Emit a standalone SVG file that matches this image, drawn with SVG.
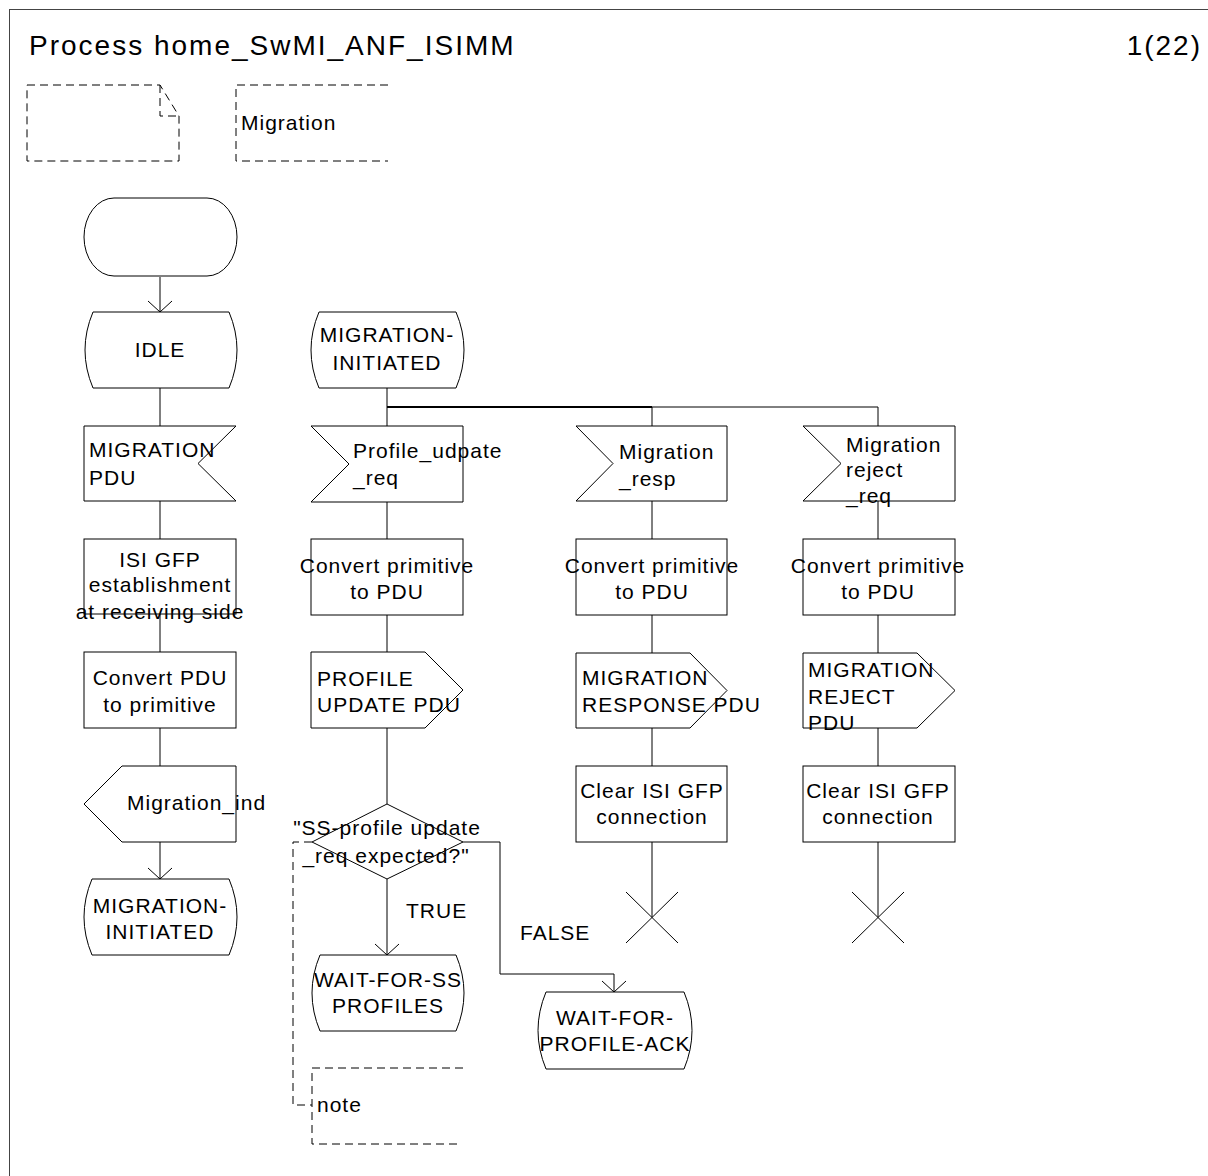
<svg xmlns="http://www.w3.org/2000/svg" width="1208" height="1176" viewBox="0 0 1208 1176">
<style>
text{font-family:"Liberation Sans",Arial,sans-serif;font-size:21px;letter-spacing:1px;fill:#000}
.c{text-anchor:middle}
.sh{fill:#fff;stroke:#000;stroke-width:1}
.ln{fill:none;stroke:#000;stroke-width:1}
.ds{fill:none;stroke:#000;stroke-width:1;stroke-dasharray:8,5}
</style>
<defs>
<marker id="arr" markerUnits="userSpaceOnUse" viewBox="-13 -13 14 26" refX="0" refY="0" markerWidth="14" markerHeight="26" orient="auto" overflow="visible">
<path d="M-11,-12 L0,0 L-11,12" fill="none" stroke="#000" stroke-width="1"/>
</marker>
</defs>
<rect x="9.5" y="9.5" width="1220" height="1200" fill="none" stroke="#444" stroke-width="1"/>
<text x="29" y="55" style="font-size:28px;letter-spacing:2px">Process home_SwMI_ANF_ISIMM</text>
<text x="1202" y="55" style="font-size:28px;letter-spacing:2px;text-anchor:end">1(22)</text>
<g id="textext">
<path class="ds" d="M27,85 H160 L179,116 V161 H27 Z"/>
<path class="ds" d="M160,85 V116 H179"/>
</g>
<g id="textsym">
<path class="ds" d="M388,85 H236 V161 H388"/>
<text x="241" y="130">Migration</text>
</g>
<g id="connectors">
<line class="ln" x1="160" y1="277" x2="160" y2="312" marker-end="url(#arr)"/>
<line class="ln" x1="160" y1="388" x2="160" y2="426"/>
<line class="ln" x1="160" y1="501" x2="160" y2="539"/>
<line class="ln" x1="160" y1="614" x2="160" y2="652"/>
<line class="ln" x1="160" y1="728" x2="160" y2="766"/>
<line class="ln" x1="160" y1="842" x2="160" y2="879" marker-end="url(#arr)"/>
<line class="ln" x1="387" y1="388" x2="387" y2="426"/>
<line x1="387" y1="407" x2="652" y2="407" stroke="#000" stroke-width="2"/>
<line class="ln" x1="652" y1="407" x2="878" y2="407"/>
<line class="ln" x1="652" y1="407" x2="652" y2="426"/>
<line class="ln" x1="878" y1="407" x2="878" y2="426"/>
<line class="ln" x1="387" y1="502" x2="387" y2="539"/>
<line class="ln" x1="387" y1="615" x2="387" y2="652"/>
<line class="ln" x1="387" y1="728" x2="387" y2="804"/>
<line class="ln" x1="387" y1="879" x2="387" y2="955" marker-end="url(#arr)"/>
<polyline class="ln" points="463,842 500,842 500,974 614,974 614,992" marker-end="url(#arr)"/>
<line class="ln" x1="652" y1="501" x2="652" y2="539"/>
<line class="ln" x1="652" y1="615" x2="652" y2="653"/>
<line class="ln" x1="652" y1="728" x2="652" y2="766"/>
<line class="ln" x1="652" y1="842" x2="652" y2="917"/>
<line class="ln" x1="878" y1="501" x2="878" y2="539"/>
<line class="ln" x1="878" y1="615" x2="878" y2="653"/>
<line class="ln" x1="878" y1="728" x2="878" y2="766"/>
<line class="ln" x1="878" y1="842" x2="878" y2="917"/>
<polyline class="ds" points="312,842 293,842 293,1105 312,1105"/>
<text x="406" y="918">TRUE</text>
<text x="520" y="940">FALSE</text>
</g>
<g id="start">
<rect class="sh" x="84" y="198" width="153" height="78" rx="30" ry="39"/>
</g>
<g id="idle">
<path class="sh" d="M93,312 H229 Q245,350 229,388 H93 Q77,350 93,312 Z"/>
<text class="c" x="160" y="357">IDLE</text>
</g>
<g id="in_migration_pdu">
<polygon class="sh" points="84,426 236,426 198,463.5 236,501 84,501"/>
<text x="89" y="457">MIGRATION</text>
<text x="89" y="485">PDU</text>
</g>
<g id="task_isi_gfp">
<rect class="sh" x="84" y="539" width="152" height="75"/>
<text class="c" x="160" y="567">ISI GFP</text>
<text class="c" x="160" y="592">establishment</text>
<text class="c" x="160" y="619">at receiving side</text>
</g>
<g id="task_convert_pdu">
<rect class="sh" x="84" y="652" width="152" height="76"/>
<text class="c" x="160" y="685">Convert PDU</text>
<text class="c" x="160" y="712">to primitive</text>
</g>
<g id="out_migration_ind">
<polygon class="sh" points="122,766 236,766 236,842 122,842 84,804"/>
<text x="127" y="810">Migration_ind</text>
</g>
<g id="state_mi_1">
<path class="sh" d="M92,879 H229 Q245,917 229,955 H92 Q76,917 92,879 Z"/>
<text class="c" x="160" y="913">MIGRATION-</text>
<text class="c" x="160" y="939">INITIATED</text>
</g>
<g id="state_mi_2">
<path class="sh" d="M319,312 H456 Q472,350 456,388 H319 Q303,350 319,312 Z"/>
<text class="c" x="387" y="342">MIGRATION-</text>
<text class="c" x="387" y="370">INITIATED</text>
</g>
<g id="in_profile_update">
<polygon class="sh" points="311,426 463,426 463,502 311,502 349,464"/>
<text x="353" y="458">Profile_udpate</text>
<text x="353" y="485">_req</text>
</g>
<g id="task_convert_2">
<rect class="sh" x="311" y="539" width="152" height="76"/>
<text class="c" x="387" y="573">Convert primitive</text>
<text class="c" x="387" y="599">to PDU</text>
</g>
<g id="out_profile_update">
<polygon class="sh" points="311,652 425,652 463,690 425,728 311,728"/>
<text x="317" y="686">PROFILE</text>
<text x="317" y="712">UPDATE PDU</text>
</g>
<g id="decision">
<polygon class="sh" points="387,804 463,842 387,879 312,842"/>
<text class="c" x="387" y="835">"SS-profile update</text>
<text class="c" x="386" y="863">_req expected?"</text>
</g>
<g id="state_wfss">
<path class="sh" d="M320,955 H456 Q472,993 456,1031 H320 Q304,993 320,955 Z"/>
<text class="c" x="388" y="987">WAIT-FOR-SS</text>
<text class="c" x="388" y="1013">PROFILES</text>
</g>
<g id="state_wfpa">
<path class="sh" d="M546,992 H684 Q700,1030.5 684,1069 H546 Q530,1030.5 546,992 Z"/>
<text class="c" x="615" y="1025">WAIT-FOR-</text>
<text class="c" x="615" y="1051">PROFILE-ACK</text>
</g>
<g id="note">
<path class="ds" d="M463,1068 H312 V1144 H458"/>
<text x="317" y="1112">note</text>
</g>
<g id="in_migration_resp">
<polygon class="sh" points="576,426 727,426 727,501 576,501 613,463.5"/>
<text x="619" y="459">Migration</text>
<text x="619" y="486">_resp</text>
</g>
<g id="task_convert_3">
<rect class="sh" x="576" y="539" width="151" height="76"/>
<text class="c" x="652" y="573">Convert primitive</text>
<text class="c" x="652" y="599">to PDU</text>
</g>
<g id="out_migration_response">
<polygon class="sh" points="576,653 690,653 727,690.5 690,728 576,728"/>
<text x="582" y="685">MIGRATION</text>
<text x="582" y="712">RESPONSE PDU</text>
</g>
<g id="task_clear_3">
<rect class="sh" x="576" y="766" width="151" height="76"/>
<text class="c" x="652" y="798">Clear ISI GFP</text>
<text class="c" x="652" y="824">connection</text>
</g>
<g id="stop_3">
<path class="ln" d="M626,892 L678,943 M678,892 L626,943"/>
</g>
<g id="in_migration_reject">
<polygon class="sh" points="803,426 955,426 955,501 803,501 841,463.5"/>
<text x="846" y="452">Migration</text>
<text x="846" y="477">reject</text>
<text x="846" y="503">_req</text>
</g>
<g id="task_convert_4">
<rect class="sh" x="803" y="539" width="152" height="76"/>
<text class="c" x="878" y="573">Convert primitive</text>
<text class="c" x="878" y="599">to PDU</text>
</g>
<g id="out_migration_reject">
<polygon class="sh" points="803,653 917,653 955,690.5 917,728 803,728"/>
<text x="808" y="677">MIGRATION</text>
<text x="808" y="704">REJECT</text>
<text x="808" y="730">PDU</text>
</g>
<g id="task_clear_4">
<rect class="sh" x="803" y="766" width="152" height="76"/>
<text class="c" x="878" y="798">Clear ISI GFP</text>
<text class="c" x="878" y="824">connection</text>
</g>
<g id="stop_4">
<path class="ln" d="M852,892 L904,943 M904,892 L852,943"/>
</g>
</svg>
